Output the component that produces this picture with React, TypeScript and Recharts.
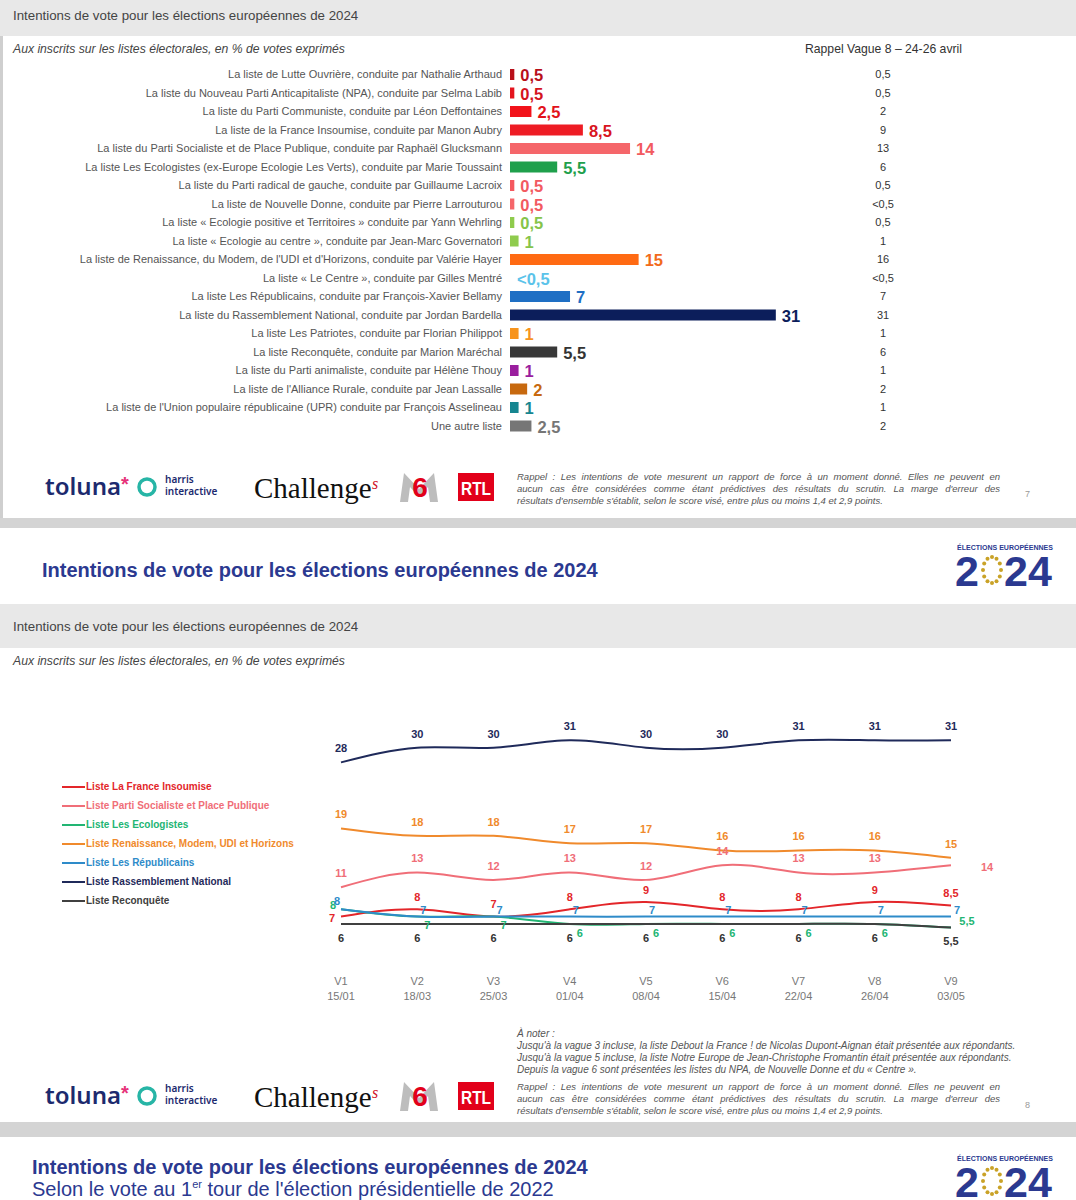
import React from 'react';
import { BarChart, Bar, Cell, XAxis, YAxis, LabelList, LineChart, Line, Legend } from 'recharts';

const FONT = "Arial, 'Liberation Sans', sans-serif";
const NAVY = '#2b3990';

// --- slide 7 : bar chart ---
const listNames = [
  'La liste de Lutte Ouvrière, conduite par Nathalie Arthaud',
  'La liste du Nouveau Parti Anticapitaliste (NPA), conduite par Selma Labib',
  'La liste du Parti Communiste, conduite par Léon Deffontaines',
  'La liste de la France Insoumise, conduite par Manon Aubry',
  'La liste du Parti Socialiste et de Place Publique, conduite par Raphaël Glucksmann',
  'La liste Les Ecologistes (ex-Europe Ecologie Les Verts), conduite par Marie Toussaint',
  'La liste du Parti radical de gauche, conduite par Guillaume Lacroix',
  'La liste de Nouvelle Donne, conduite par Pierre Larrouturou',
  'La liste « Ecologie positive et Territoires » conduite par Yann Wehrling',
  'La liste « Ecologie au centre », conduite par Jean-Marc Governatori',
  "La liste de Renaissance, du Modem, de l'UDI et d'Horizons, conduite par Valérie Hayer",
  'La liste « Le Centre », conduite par Gilles Mentré',
  'La liste Les Républicains, conduite par François-Xavier Bellamy',
  'La liste du Rassemblement National, conduite par Jordan Bardella',
  'La liste Les Patriotes, conduite par Florian Philippot',
  'La liste Reconquête, conduite par Marion Maréchal',
  'La liste du Parti animaliste, conduite par Hélène Thouy',
  "La liste de l'Alliance Rurale, conduite par Jean Lassalle",
  "La liste de l'Union populaire républicaine (UPR) conduite par François Asselineau",
  'Une autre liste',
];
// 0 = "<0,5"
const scores = [0.5, 0.5, 2.5, 8.5, 14, 5.5, 0.5, 0.5, 0.5, 1, 15, 0, 7, 31, 1, 5.5, 1, 2, 1, 2.5];
const rappelV8 = ['0,5', '0,5', '2', '9', '13', '6', '0,5', '<0,5', '0,5', '1', '16', '<0,5', '7', '31', '1', '6', '1', '2', '1', '2'];
const barColors = [
  '#b80f1a', '#e4141e', '#f2121a', '#ee1c24', '#f5666a', '#1fa04c', '#f5585e', '#f5666a', '#8fcb4d', '#8fcb4d',
  '#ff6a13', 'transparent', '#1f6fc4', '#0c1e5b', '#f7941d', '#383838', '#9a1e9e', '#c7690f', '#168690', '#767676',
];
const labelColors = [
  '#b80f1a', '#d4141e', '#e2121a', '#d8141e', '#f25a60', '#1fa04c', '#f25a60', '#f25a60', '#86c44a', '#86c44a',
  '#f26a1b', '#5bc3ea', '#1f6fc4', '#0c1e5b', '#f7941d', '#333333', '#9a1e9e', '#c7690f', '#168690', '#767676',
];

// --- slide 8 : line chart ---
const waves = ['V1', 'V2', 'V3', 'V4', 'V5', 'V6', 'V7', 'V8', 'V9'];
const waveDates = ['15/01', '18/03', '25/03', '01/04', '08/04', '15/04', '22/04', '26/04', '03/05'];
const lfi = [7, 8, 7, 8, 9, 8, 8, 9, 8.5];
const ps = [11, 13, 12, 13, 12, 14, 13, 13, 14];
const eco = [8, 7, 7, 6, 6, 6, 6, 6, 5.5];
const renaissance = [19, 18, 18, 17, 17, 16, 16, 16, 15];
const lr = [8, 7, 7, 7, 7, 7, 7, 7, 7];
const rn = [28, 30, 30, 31, 30, 30, 31, 31, 31];
const reconquete = [6, 6, 6, 6, 6, 6, 6, 6, 5.5];
const legendOrder = ['lfi', 'ps', 'eco', 'renaissance', 'lr', 'rn', 'reconquete'];

const barData = listNames.map((name, i) => ({ name, score: scores[i], rappel: rappelV8[i] }));
const lineData = waves.map((wave, i) => ({
  wave,
  lfi: lfi[i],
  ps: ps[i],
  eco: eco[i],
  renaissance: renaissance[i],
  lr: lr[i],
  rn: rn[i],
  reconquete: reconquete[i],
}));

const fmt = (v: number) => String(v).replace('.', ',');

const NameTick = (props: any) => (
  <text x={props.x} y={props.y} dy="0.35em" textAnchor="end" fontSize={11} fill="#555" fontFamily={FONT}>
    {props.payload.value}
  </text>
);

const RappelTick = (props: any) => (
  <text x={props.x + 22} y={props.y} dy="0.35em" textAnchor="middle" fontSize={11} fill="#333" fontFamily={FONT}>
    {rappelV8[props.payload.index]}
  </text>
);

const renderBarValue = (props: any) => {
  const vb = props.viewBox || props;
  const x = vb.x ?? props.x;
  const y = vb.y ?? props.y;
  const w = vb.width ?? props.width ?? 0;
  const h = vb.height ?? props.height ?? 0;
  const text = props.value === 0 ? '<0,5' : fmt(props.value);
  return (
    <text x={x + w + 6} y={y + h / 2 + 1} dy="0.36em" fill={labelColors[props.index]} fontSize={16.5} fontWeight="bold" fontFamily={FONT}>
      {text}
    </text>
  );
};

const lineLabel = (color: string, dx: number, dy: number, special: Record<number, [number, number]> = {}) => (props: any) => {
  const x = props.x ?? props.viewBox?.x;
  const y = props.y ?? props.viewBox?.y;
  const [ox, oy] = special[props.index] || [dx, dy];
  return (
    <text x={x + ox} y={y + oy} dy="0.35em" textAnchor="middle" fill={color} fontSize={11} fontWeight="bold" fontFamily={FONT}>
      {fmt(props.value)}
    </text>
  );
};

const WaveTick = (props: any) => (
  <g fontFamily={FONT} fontSize={11} fill="#777">
    <text x={props.x} y={props.y + 9} textAnchor="middle">{props.payload.value}</text>
    <text x={props.x} y={props.y + 24} textAnchor="middle">{waveDates[props.payload.index]}</text>
  </g>
);

const LineLegend = (props: any) => {
  const items = [...(props.payload || [])].sort(
    (a: any, b: any) => legendOrder.indexOf(a.dataKey) - legendOrder.indexOf(b.dataKey)
  );
  return (
    <div style={{ fontFamily: FONT }}>
      {items.map((e: any) => (
        <div key={e.value} style={{ display: 'flex', alignItems: 'center', height: 19 }}>
          <div style={{ width: 23, height: 2, background: e.color }} />
          <span style={{ color: e.color, fontSize: 10, fontWeight: 'bold', marginLeft: 1, whiteSpace: 'nowrap' }}>{e.value}</span>
        </div>
      ))}
    </div>
  );
};

const Txt = ({ x, y, size, children, style }: any) => (
  <div style={{ position: 'absolute', left: x, top: y - size * 0.6, fontSize: size, lineHeight: `${size * 1.2}px`, whiteSpace: 'nowrap', fontFamily: FONT, ...style }}>
    {children}
  </div>
);

const Logos = ({ top }: { top: number }) => (
  <svg width={510} height={40} style={{ position: 'absolute', left: 0, top }}>
    <text x={45} y={28} fontSize={24} fill="#1c2a6e" fontFamily="'Noto Sans', Arial" fontWeight={600}>toluna</text>
    <text x={121} y={24} fontSize={20} fill="#e6337a" fontWeight="bold" fontFamily={FONT}>*</text>
    <circle cx={147} cy={20} r={8} stroke="#27b5a6" strokeWidth={3.5} fill="none" />
    <text x={165} y={16} fontSize={10} fill="#1c2a6e" fontFamily="'Noto Sans', Arial" fontWeight={600}>harris</text>
    <text x={165} y={28} fontSize={10} fill="#1c2a6e" fontFamily="'Noto Sans', Arial" fontWeight={600}>interactive</text>
    <text x={254} y={31} fontSize={29} fill="#111" fontFamily="'Liberation Serif', 'DejaVu Serif', serif">Challenge</text>
    <text x={372} y={22} fontSize={16} fill="#d0112b" fontStyle="italic" fontFamily="'Liberation Serif', serif">s</text>
    <path d="M400 35 L404 6 L419 22 L434 6 L438 35 L430 35 L428 20 L419 30 L410 20 L408 35 Z" fill="#bdbdbd" />
    <text x={420} y={30} fontSize={28} fill="#e2001a" fontWeight="bold" textAnchor="middle" fontFamily={FONT}>6</text>
    <rect x={458} y={6} width={36} height={28} fill="#e2001a" />
    <text x={476} y={28} fontSize={18} fill="#fff" fontWeight="bold" textAnchor="middle" textLength={30} lengthAdjust="spacingAndGlyphs" fontFamily={FONT}>RTL</text>
  </svg>
);

const Rappel = ({ top }: { top: number }) => {
  const lines = [
    'Rappel : Les intentions de vote mesurent un rapport de force à un moment donné. Elles ne peuvent en',
    "aucun cas être considérées comme étant prédictives des résultats du scrutin. La marge d'erreur des",
    "résultats d'ensemble s'établit, selon le score visé, entre plus ou moins 1,4 et 2,9 points.",
  ];
  return (
    <div style={{ position: 'absolute', left: 517, top, width: 483, fontFamily: FONT, fontStyle: 'italic', fontSize: 9.5, lineHeight: '12px', color: '#555' }}>
      {lines.map((l, i) => (
        <div key={i} style={{ textAlign: i < 2 ? 'justify' : 'left', textAlignLast: i < 2 ? 'justify' : 'left', whiteSpace: 'nowrap' }}>{l}</div>
      ))}
    </div>
  );
};

const EuroLogo = ({ top }: { top: number }) => (
  <svg width={108} height={60} style={{ position: 'absolute', left: 951, top: top - 3 }}>
    <text x={54} y={12} fontSize={7.5} fill={NAVY} fontWeight="bold" textAnchor="middle" textLength={96} lengthAdjust="spacingAndGlyphs" fontFamily={FONT}>ÉLECTIONS EUROPÉENNES</text>
    <text x={4} y={48} fontSize={43} fill={NAVY} fontWeight="bold" fontFamily={FONT}>2</text>
    {Array.from({ length: 12 }).map((_, i) => (
      <circle key={i} cx={41 + 9 * Math.cos((i * Math.PI) / 6)} cy={32 + 13 * Math.sin((i * Math.PI) / 6)} r={2} fill="#c9a227" />
    ))}
    <text x={53} y={48} fontSize={43} fill={NAVY} fontWeight="bold" fontFamily={FONT}>24</text>
  </svg>
);

export default function App() {
  return (
    <div style={{ position: 'relative', width: 1076, height: 1200, background: '#d4d4d4', overflow: 'hidden', fontFamily: FONT }}>
      <style>{'body{margin:0}'}</style>

      {/* slide 7 */}
      <div style={{ position: 'absolute', left: 0, top: 0, width: 1076, height: 518, background: '#fff', borderLeft: '3px solid #cfcfcf', boxSizing: 'border-box' }} />
      <div style={{ position: 'absolute', left: 0, top: 0, width: 1076, height: 36, background: '#e8e8e8' }} />
      <Txt x={13} y={16} size={13.3} style={{ color: '#444' }}>Intentions de vote pour les élections européennes de 2024</Txt>
      <Txt x={13} y={49} size={12.2} style={{ color: '#444', fontStyle: 'italic' }}>Aux inscrits sur les listes électorales, en % de votes exprimés</Txt>
      <Txt x={805} y={49} size={12.2} style={{ color: '#333' }}>Rappel Vague 8 – 24-26 avril</Txt>

      <div style={{ position: 'absolute', left: 0, top: 65 }}>
        <BarChart width={913} height={370} data={barData} layout="vertical" margin={{ top: 0, right: 0, bottom: 0, left: 0 }} barCategoryGap={0}>
          <XAxis type="number" hide domain={[0, 40]} />
          <YAxis type="category" dataKey="name" width={510} interval={0} tickLine={false} axisLine={false} tick={<NameTick />} />
          <YAxis yAxisId="v8" orientation="right" type="category" dataKey="name" width={60} interval={0} tickLine={false} axisLine={false} tick={<RappelTick />} />
          <Bar dataKey="score" barSize={11} minPointSize={1} isAnimationActive={false}>
            {barData.map((d, i) => (
              <Cell key={d.name} fill={barColors[i]} />
            ))}
            <LabelList dataKey="score" content={renderBarValue} />
          </Bar>
        </BarChart>
      </div>

      <Logos top={467} />
      <Rappel top={471} />
      <Txt x={1025} y={494} size={9} style={{ color: '#999' }}>7</Txt>

      {/* slide 8 */}
      <div style={{ position: 'absolute', left: 0, top: 528, width: 1076, height: 594, background: '#fff' }} />
      <Txt x={42} y={570} size={20} style={{ color: NAVY, fontWeight: 'bold' }}>Intentions de vote pour les élections européennes de 2024</Txt>
      <EuroLogo top={541} />
      <div style={{ position: 'absolute', left: 0, top: 604, width: 1076, height: 44, background: '#e8e8e8' }} />
      <Txt x={13} y={627} size={13.3} style={{ color: '#444' }}>Intentions de vote pour les élections européennes de 2024</Txt>
      <Txt x={13} y={661} size={12.2} style={{ color: '#444', fontStyle: 'italic' }}>Aux inscrits sur les listes électorales, en % de votes exprimés</Txt>

      <div style={{ position: 'absolute', left: 0, top: 700 }}>
        <LineChart width={1076} height={308} data={lineData} margin={{ top: 33, right: 125, left: 341, bottom: 0 }}>
          <XAxis dataKey="wave" height={40} interval={0} tickLine={false} axisLine={false} tick={<WaveTick />} padding={{ left: 0, right: 0 }} />
          <YAxis hide domain={[0, 32]} />
          <Legend layout="horizontal" verticalAlign="middle" align="center" wrapperStyle={{ left: 62, top: 77, width: 280 }} content={<LineLegend />} />
          <Line type="natural" dataKey="lfi" name="Liste La France Insoumise" stroke="#e3262a" strokeWidth={2} dot={false} isAnimationActive={false}>
            <LabelList dataKey="lfi" content={lineLabel('#e3262a', 0, -12, { 0: [-9, 2] })} />
          </Line>
          <Line type="natural" dataKey="ps" name="Liste Parti Socialiste et Place Publique" stroke="#f06e78" strokeWidth={2} dot={false} isAnimationActive={false}>
            <LabelList dataKey="ps" content={lineLabel('#f06e78', 0, -14, { 8: [36, 2] })} />
          </Line>
          <Line type="natural" dataKey="eco" name="Liste Les Ecologistes" stroke="#22b573" strokeWidth={2} dot={false} isAnimationActive={false}>
            <LabelList dataKey="eco" content={lineLabel('#22b573', 10, 9, { 0: [-8, -4], 8: [16, -6] })} />
          </Line>
          <Line type="natural" dataKey="renaissance" name="Liste Renaissance, Modem, UDI et Horizons" stroke="#f08a2c" strokeWidth={2} dot={false} isAnimationActive={false}>
            <LabelList dataKey="renaissance" content={lineLabel('#f08a2c', 0, -14)} />
          </Line>
          <Line type="natural" dataKey="lr" name="Liste Les Républicains" stroke="#2e8bc9" strokeWidth={2} dot={false} isAnimationActive={false}>
            <LabelList dataKey="lr" content={lineLabel('#2e8bc9', 6, -6, { 0: [-4, -8] })} />
          </Line>
          <Line type="natural" dataKey="rn" name="Liste Rassemblement National" stroke="#1f2a5a" strokeWidth={2} dot={false} isAnimationActive={false}>
            <LabelList dataKey="rn" content={lineLabel('#1f2a5a', 0, -14)} />
          </Line>
          <Line type="natural" dataKey="reconquete" name="Liste Reconquête" stroke="#404040" strokeWidth={2} dot={false} isAnimationActive={false}>
            <LabelList dataKey="reconquete" content={lineLabel('#333333', 0, 14)} />
          </Line>
        </LineChart>
      </div>

      <div style={{ position: 'absolute', left: 517, top: 1028, fontFamily: FONT, fontStyle: 'italic', fontSize: 10, lineHeight: '12px', color: '#555', whiteSpace: 'nowrap' }}>
        <div>À noter :</div>
        <div>Jusqu'à la vague 3 incluse, la liste Debout la France ! de Nicolas Dupont-Aignan était présentée aux répondants.</div>
        <div>Jusqu'à la vague 5 incluse, la liste Notre Europe de Jean-Christophe Fromantin était présentée aux répondants.</div>
        <div>Depuis la vague 6 sont présentées les listes du NPA, de Nouvelle Donne et du « Centre ».</div>
      </div>
      <Logos top={1076} />
      <Rappel top={1081} />
      <Txt x={1025} y={1105} size={9} style={{ color: '#999' }}>8</Txt>

      {/* slide 9 (header only) */}
      <div style={{ position: 'absolute', left: 0, top: 1137, width: 1076, height: 63, background: '#fff' }} />
      <Txt x={32} y={1167} size={20} style={{ color: NAVY, fontWeight: 'bold' }}>Intentions de vote pour les élections européennes de 2024</Txt>
      <Txt x={32} y={1189} size={20} style={{ color: NAVY }}>
        Selon le vote au 1<sup style={{ fontSize: 11, lineHeight: 0 }}>er</sup> tour de l'élection présidentielle de 2022
      </Txt>
      <EuroLogo top={1152} />
    </div>
  );
}
